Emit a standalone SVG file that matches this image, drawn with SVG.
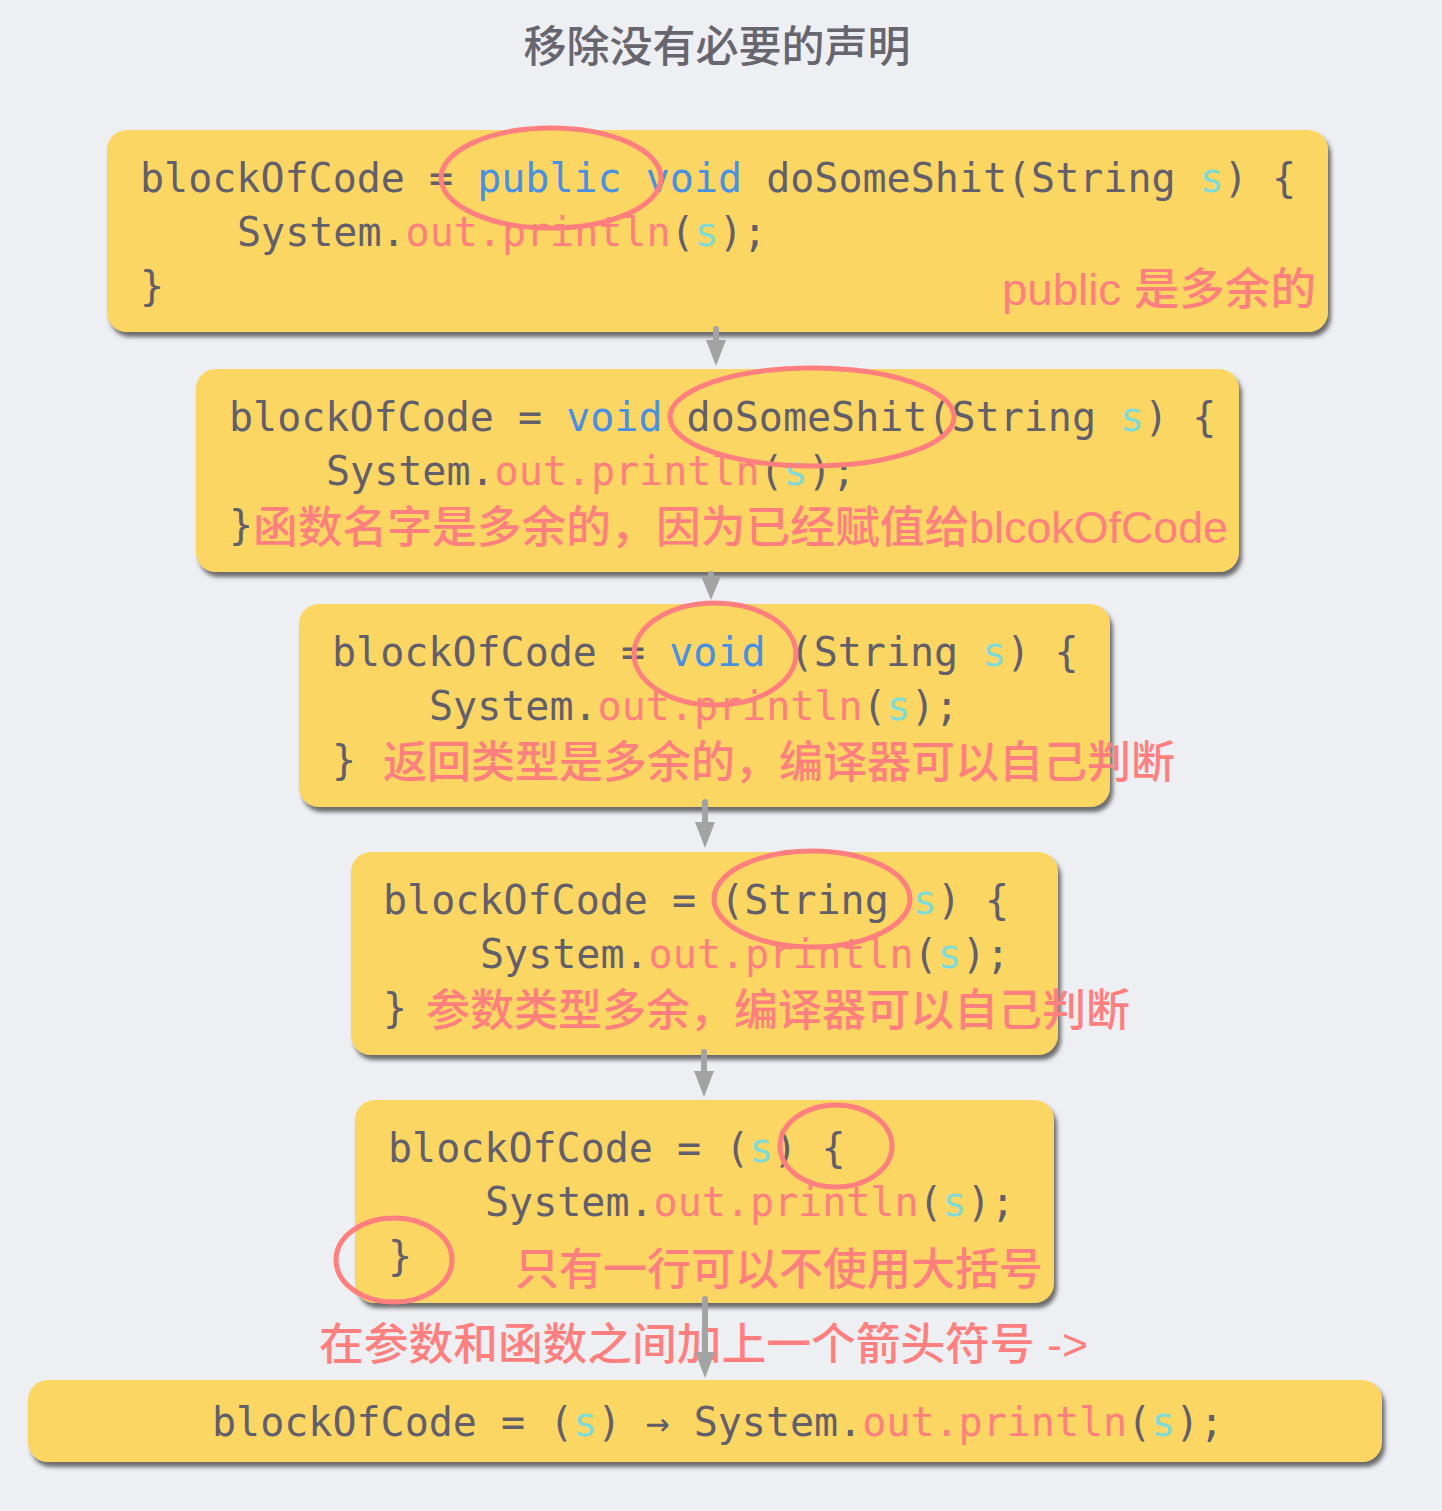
<svg xmlns="http://www.w3.org/2000/svg" width="1442" height="1511" viewBox="0 0 1442 1511">
<defs>
<style>
.bg{fill:#eeeff3}
.box{fill:#fcd664;filter:url(#sh)}
.code{font-family:"DejaVu Sans Mono","Liberation Mono",monospace;font-size:40px;fill:#625f6b}
.kw{fill:#4a90e2}
.pk{fill:#ff7f7f}
.cy{fill:#7fdbd6}
.note{font-family:"Liberation Sans","Noto Sans CJK SC",sans-serif;font-size:44px;font-weight:500;fill:#ff7f7f}
.title{font-family:"Noto Sans CJK SC",sans-serif;font-size:43px;font-weight:500;fill:#67656e}
.ring{fill:none;stroke:#ff7f7f;stroke-width:5}
.arr{stroke:#a3a3a3;stroke-width:6;stroke-linecap:round;fill:none}
.head{fill:#a3a3a3}
</style>
<filter id="sh" x="-5%" y="-10%" width="110%" height="125%">
<feDropShadow dx="3" dy="5" stdDeviation="2" flood-color="#4a4a4a" flood-opacity="0.8"/>
</filter>
</defs>
<rect class="bg" x="0" y="0" width="1442" height="1511"/>
<text class="title" x="717" y="62" text-anchor="middle">移除没有必要的声明</text>

<g id="node1">
<rect class="box" x="107" y="130" width="1221" height="202" rx="20"/>
<text class="code" x="140" y="192" xml:space="preserve">blockOfCode = <tspan class="kw">public void</tspan> doSomeShit(String <tspan class="cy">s</tspan>) {</text>
<text class="code" x="237" y="246" xml:space="preserve">System.<tspan class="pk">out.println</tspan>(<tspan class="cy">s</tspan>);</text>
<text class="code" x="140" y="300">}</text>
<text class="note" x="1002" y="305" textLength="314" lengthAdjust="spacingAndGlyphs">public 是多余的</text>
<ellipse class="ring" cx="551" cy="178" rx="110" ry="50"/>
</g>

<g id="node2">
<rect class="box" x="196" y="369" width="1043" height="203" rx="20"/>
<text class="code" x="229" y="431" xml:space="preserve">blockOfCode = <tspan class="kw">void</tspan> doSomeShit(String <tspan class="cy">s</tspan>) {</text>
<text class="code" x="326" y="485" xml:space="preserve">System.<tspan class="pk">out.println</tspan>(<tspan class="cy">s</tspan>);</text>
<text class="code" x="229" y="539">}</text>
<text class="note" x="253" y="543" textLength="975" lengthAdjust="spacingAndGlyphs">函数名字是多余的，因为已经赋值给blcokOfCode</text>
<ellipse class="ring" cx="812" cy="417" rx="142" ry="49"/>
</g>

<g id="node3">
<rect class="box" x="299" y="604" width="811" height="203" rx="20"/>
<text class="code" x="332" y="666" xml:space="preserve">blockOfCode = <tspan class="kw">void</tspan> (String <tspan class="cy">s</tspan>) {</text>
<text class="code" x="429" y="720" xml:space="preserve">System.<tspan class="pk">out.println</tspan>(<tspan class="cy">s</tspan>);</text>
<text class="code" x="332" y="774">}</text>
<text class="note" x="383" y="778">返回类型是多余的，编译器可以自己判断</text>
<ellipse class="ring" cx="715" cy="654" rx="81" ry="51"/>
</g>

<g id="node4">
<rect class="box" x="351" y="852" width="707" height="203" rx="20"/>
<text class="code" x="383" y="914" xml:space="preserve">blockOfCode = (String <tspan class="cy">s</tspan>) {</text>
<text class="code" x="480" y="968" xml:space="preserve">System.<tspan class="pk">out.println</tspan>(<tspan class="cy">s</tspan>);</text>
<text class="code" x="383" y="1022">}</text>
<text class="note" x="426" y="1026">参数类型多余，编译器可以自己判断</text>
<ellipse class="ring" cx="812" cy="899" rx="98" ry="48"/>
</g>

<g id="node5">
<rect class="box" x="355" y="1100" width="699" height="203" rx="20"/>
<text class="code" x="388" y="1162" xml:space="preserve">blockOfCode = (<tspan class="cy">s</tspan>) {</text>
<text class="code" x="485" y="1216" xml:space="preserve">System.<tspan class="pk">out.println</tspan>(<tspan class="cy">s</tspan>);</text>
<text class="code" x="388" y="1270">}</text>
<text class="note" x="515" y="1285">只有一行可以不使用大括号</text>
<ellipse class="ring" cx="836" cy="1146" rx="56" ry="41"/>
<ellipse class="ring" cx="394" cy="1260" rx="58" ry="42"/>
</g>

<g id="label-arrow">
<text class="note" x="319" y="1360" textLength="769" lengthAdjust="spacingAndGlyphs">在参数和函数之间加上一个箭头符号 -&gt;</text>
</g>

<g id="node6">
<rect class="box" x="28" y="1380" width="1354" height="82" rx="20"/>
<text class="code" x="212" y="1436" xml:space="preserve">blockOfCode = (<tspan class="cy">s</tspan>) → System.<tspan class="pk">out.println</tspan>(<tspan class="cy">s</tspan>);</text>
</g>

<g id="connectors">
<line class="arr" x1="716" y1="329" x2="716" y2="345"/>
<polygon class="head" points="706,340 726,340 716,366"/>
<line class="arr" x1="711" y1="574" x2="711" y2="580"/>
<polygon class="head" points="701,576 721,576 711,600"/>
<line class="arr" x1="705" y1="802" x2="705" y2="826"/>
<polygon class="head" points="695,822 715,822 705,848"/>
<line class="arr" x1="704" y1="1052" x2="704" y2="1075"/>
<polygon class="head" points="694,1071 714,1071 704,1097"/>
<line class="arr" x1="705" y1="1299" x2="705" y2="1356"/>
<polygon class="head" points="695,1352 715,1352 705,1378"/>
</g>
</svg>
